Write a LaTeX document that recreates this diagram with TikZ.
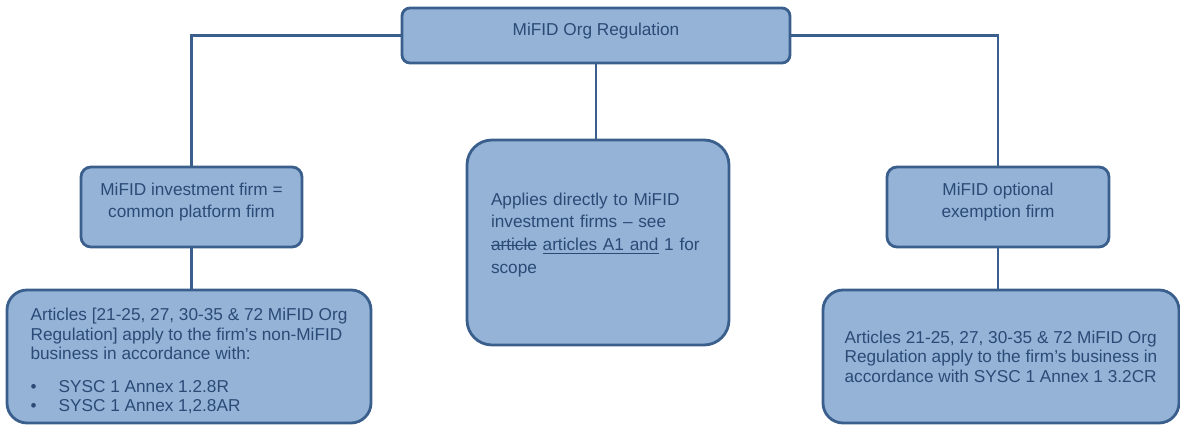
\documentclass[tikz,border=0pt]{standalone}
\usepackage{fontspec}
\setmainfont{Liberation Sans}
\usepackage{tikz}
\definecolor{boxfill}{HTML}{95B3D7}
\definecolor{boxline}{HTML}{3A5F8D}
\definecolor{boxtext}{HTML}{2B4A76}
\newcommand{\lowstrut}[1]{\rule[-#1]{0pt}{#1}}
\newcommand{\highstrut}[1]{\rule{0pt}{#1}}
\newsavebox{\wordbox}
\newcommand{\strikeword}[1]{\leavevmode\sbox{\wordbox}{#1}\rlap{\usebox{\wordbox}}\rule[2.6pt]{\wd\wordbox}{0.6pt}}
\newcommand{\underword}[1]{\leavevmode\sbox{\wordbox}{#1}\rlap{\usebox{\wordbox}}\rule[-1.6pt]{\wd\wordbox}{0.6pt}}

\begin{document}
\begin{tikzpicture}
\tikzstyle{every node}=[font=\fontsize{9.8pt}{13pt}\selectfont, text=boxtext]
\tikzstyle{box}=[draw=boxline, fill=boxfill, line width=1.6pt, inner sep=0pt]
\tikzstyle{tight}=[font=\fontsize{9.8pt}{11.1pt}\selectfont]
\tikzstyle{link}=[draw=boxline, line width=1.6pt]
\useasboundingbox (0,0) rectangle (23.6,-8.5);
\node [box, rounded corners=0.16cm, minimum width=7.76cm, minimum height=1.1cm] (reg) at (11.92,-0.71) {MiFID Org Regulation\lowstrut{7.6pt}};
\node [box, rounded corners=0.2cm, minimum width=4.42cm, minimum height=1.6cm, align=center] (lfirm) at (3.83,-4.14) {MiFID investment firm =\\common platform firm\lowstrut{7.7pt}};
\node [box, rounded corners=0.2cm, minimum width=4.44cm, minimum height=1.6cm, align=center] (rfirm) at (19.96,-4.14) {MiFID optional\\exemption firm\lowstrut{7.7pt}};
\node [box, rounded corners=0.5cm, minimum width=5.24cm, minimum height=4.1cm, text width=4.28cm, align=left] (mid) at (11.96,-4.85) {Applies directly to MiFID\\investment firms – see\\\strikeword{article} \underword{articles A1 and} 1 for\\scope\lowstrut{10.6pt}};
\node [box, tight, rounded corners=0.4cm, minimum width=7.28cm, minimum height=2.66cm, align=left] (lrule) at (3.78,-7.13) {\highstrut{12.1pt}Articles [21-25, 27, 30-35 \& 72 MiFID Org\\Regulation] apply to the firm’s non-MiFID\\business in accordance with:\\[7.4pt]\makebox[0.56cm][l]{\textbullet}SYSC 1 Annex 1.2.8R\\\makebox[0.56cm][l]{\textbullet}SYSC 1 Annex 1,2.8AR};
\node [box, tight, rounded corners=0.4cm, minimum width=7.12cm, minimum height=2.66cm, align=left] (rrule) at (20.02,-7.13) {Articles 21-25, 27, 30-35 \& 72 MiFID Org\\Regulation apply to the firm’s business in\\accordance with SYSC 1 Annex 1 3.2CR};
\draw [link] (reg.west) -| (lfirm.north);
\draw [link] (reg.east) -| (rfirm.north);
\draw [link] (reg.south) -- (reg.south |- mid.north);
\draw [link] (lfirm.south) -- (lfirm.south |- lrule.north);
\draw [link] (rfirm.south) -- (rfirm.south |- rrule.north);
\end{tikzpicture}
\end{document}
